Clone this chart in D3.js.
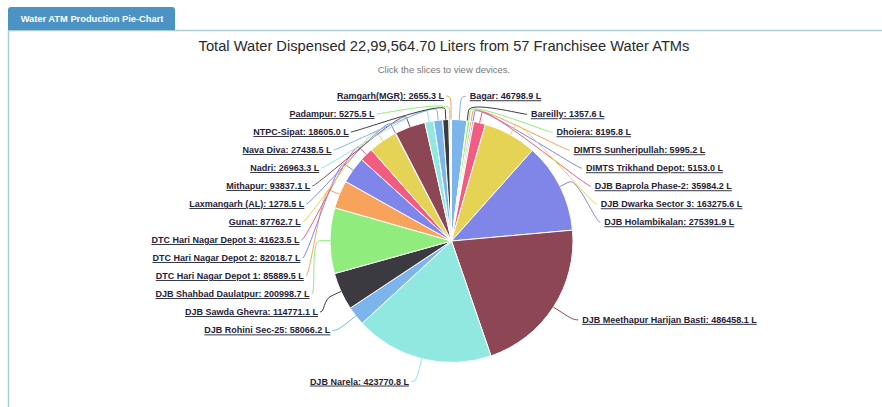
<!DOCTYPE html>
<html>
<head>
<meta charset="utf-8">
<script src="https://cdnjs.cloudflare.com/ajax/libs/d3/7.8.5/d3.min.js"></script>
<style>
  body { margin: 0; background: #fff; }
  text { font-family: "Liberation Sans", Arial, sans-serif; }
</style>
</head>
<body>
<svg id="chart" width="882" height="407"></svg>
<script>
// data (slices clockwise from 12 o'clock)
var atmNames = [
  "Bagar", "Bareilly", "Dhoiera", "DIMTS Sunheripullah", "DIMTS Trikhand Depot",
  "DJB Baprola Phase-2", "DJB Dwarka Sector 3", "DJB Holambikalan",
  "DJB Meethapur Harijan Basti", "DJB Narela", "DJB Rohini Sec-25",
  "DJB Sawda Ghevra", "DJB Shahbad Daulatpur", "DTC Hari Nagar Depot 1",
  "DTC Hari Nagar Depot 2", "DTC Hari Nagar Depot 3", "Gunat", "Laxmangarh (AL)",
  "Mithapur", "Nadri", "Nava Diva", "NTPC-Sipat", "Padampur", "Ramgarh(MGR)"
];
var litersDispensed = [
  46798.9, 1357.6, 8195.8, 5995.2, 5153.0,
  35984.2, 163275.6, 275391.9,
  486458.1, 423770.8, 58066.2,
  114771.1, 200998.7, 85889.5,
  82018.7, 41623.5, 87762.7, 1278.5,
  93837.1, 26963.3, 27438.5, 18605.0, 5275.5, 2655.3
];
var sliceColors = ["#7cb5ec", "#3a3a40", "#90ed7d", "#f7a35c", "#8085e9",
                   "#f15c80", "#e4d354", "#8085e8", "#8d4653", "#91e8e1"];
var tabLabel = "Water ATM Production Pie-Chart";
var chartTitle = "Total Water Dispensed 22,99,564.70 Liters from 57 Franchisee Water ATMs";
var chartSubtitle = "Click the slices to view devices.";

var W = 882, H = 407;
var svg = d3.select("#chart");

// panel + tab
svg.append("path")
  .attr("d", "M8.5," + H + "V30.5H" + W)
  .attr("fill", "none")
  .attr("stroke", "#a9ccd6")
  .attr("stroke-width", 1.5);

svg.append("path")
  .attr("d", "M8,30V10Q8,7 11,7H172Q175,7 175,10V30Z")
  .attr("fill", "#4b93c5");

svg.append("text")
  .attr("x", 92).attr("y", 22)
  .attr("text-anchor", "middle")
  .attr("fill", "#fff")
  .style("font-size", "9.3px")
  .style("font-weight", "bold")
  .text(tabLabel);

svg.append("text")
  .attr("x", 444).attr("y", 51)
  .attr("text-anchor", "middle")
  .attr("fill", "#2a2a2a")
  .style("font-size", "14.7px")
  .text(chartTitle);

svg.append("text")
  .attr("x", 444).attr("y", 73)
  .attr("text-anchor", "middle")
  .attr("fill", "#777")
  .style("font-size", "9.5px")
  .text(chartSubtitle);

// pie
var cx = 451.5, cy = 241, r = 121.5;
var labelR = 145, lineGap = 18;

var pie = d3.pie().sort(null).value(function(d) { return d; });
var arcs = pie(litersDispensed);
var arc = d3.arc().innerRadius(0).outerRadius(r);

var g = svg.append("g").attr("transform", "translate(" + cx + "," + cy + ")");

g.selectAll("path.slice")
  .data(arcs)
  .enter().append("path")
  .attr("class", "slice")
  .attr("d", arc)
  .attr("fill", function(d, i) { return sliceColors[i % sliceColors.length]; })
  .attr("stroke", "#fff")
  .attr("stroke-width", 1);

// label layout, roughly the highcharts way
var labels = arcs.map(function(d, i) {
  var a = (d.startAngle + d.endAngle) / 2;
  return {
    i: i,
    a: a,
    right: a < Math.PI,
    y0: -labelR * Math.cos(a),
    text: atmNames[i] + ": " + d3.format(".1f")(litersDispensed[i]) + " L"
  };
});

[true, false].forEach(function(side) {
  var list = labels.filter(function(l) { return l.right === side; })
    .sort(function(a, b) { return a.y0 - b.y0; });
  var prev = -Infinity;
  list.forEach(function(l) {
    l.y = Math.max(l.y0, prev + lineGap, -labelR);
    prev = l.y;
  });
  var next = Infinity;
  for (var k = list.length - 1; k >= 0; k--) {
    list[k].y = Math.min(list[k].y, next - lineGap, labelR);
    next = list[k].y;
  }
  list.forEach(function(l) {
    var dx = Math.sqrt(Math.max(0, labelR * labelR - l.y * l.y));
    l.x = side ? dx : -dx;
  });
});

g.selectAll("path.connector")
  .data(labels)
  .enter().append("path")
  .attr("class", "connector")
  .attr("fill", "none")
  .attr("stroke", function(l) { return sliceColors[l.i % sliceColors.length]; })
  .attr("stroke-width", 1)
  .attr("d", function(l) {
    var bx = r * Math.sin(l.a), by = -r * Math.cos(l.a);
    var mx = (r + 10) * Math.sin(l.a), my = -(r + 10) * Math.cos(l.a);
    var ex = l.x + (l.right ? 5 : -5);
    return "M" + ex + "," + l.y + "C" + l.x + "," + l.y + " " +
      (2 * mx - bx) + "," + (2 * my - by) + " " + mx + "," + my +
      "L" + bx + "," + by;
  });

g.selectAll("text.label")
  .data(labels)
  .enter().append("text")
  .attr("class", "label")
  .attr("x", function(l) { return l.right ? l.x + 9 : l.x - 7; })
  .attr("y", function(l) { return l.y + 3; })
  .attr("text-anchor", function(l) { return l.right ? "start" : "end"; })
  .attr("fill", "#1f2236")
  .style("font-size", "9px")
  .style("font-weight", "bold")
  .style("text-decoration", "underline")
  .text(function(l) { return l.text; });
</script>
</body>
</html>
